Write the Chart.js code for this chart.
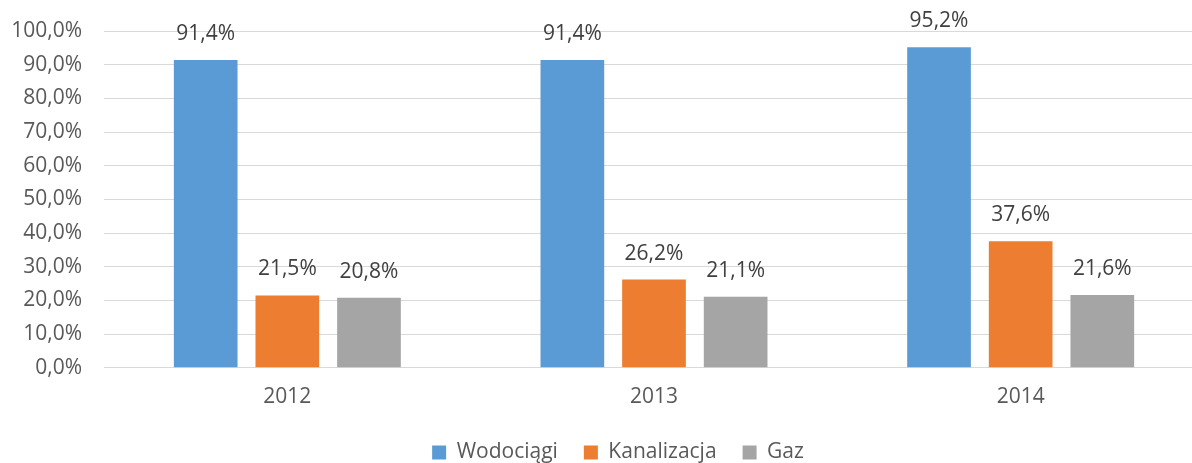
<!DOCTYPE html>
<html>
<head>
<meta charset="utf-8">
<script src="https://cdn.jsdelivr.net/npm/chart.js@4"></script>
<style>
  html, body { margin: 0; padding: 0; overflow: hidden; background: #fff; }
  #wrap { position: absolute; left: 0; top: 0; width: 1236px; height: 463px; }
</style>
</head>
<body>
<div id="wrap"><canvas id="chart"></canvas></div>
<script>
const YEARS = ['2012', '2013', '2014'];
const WODOCIAGI = [91.4, 91.4, 95.2];
const KANALIZACJA = [21.5, 26.2, 37.6];
const GAZ = [20.8, 21.1, 21.6];
const Y_TICKS = [0, 10, 20, 30, 40, 50, 60, 70, 80, 90, 100];

const FONT = "'Open Sans', sans-serif";
const pct = v => v.toFixed(1).replace('.', ',') + '%';

// value labels above each bar
const barLabels = {
    id: 'barLabels',
    afterDatasetsDraw(chart) {
        const ctx = chart.ctx;
        ctx.save();
        ctx.font = '21px ' + FONT;
        ctx.fillStyle = '#404040';
        ctx.textAlign = 'center';
        ctx.textBaseline = 'middle';
        chart.data.datasets.forEach((ds, i) => {
            chart.getDatasetMeta(i).data.forEach((bar, j) => {
                ctx.fillText(pct(ds.data[j]), bar.x, bar.y - 26);
            });
        });
        ctx.restore();
    }
};

// the legend sits centred on the whole (wider) figure, a bit lower than chart.js puts it
const legendShift = {
    id: 'legendShift',
    afterLayout(chart) {
        const lg = chart.legend;
        lg.left += 16; lg.right += 16;
        lg.top -= 11; lg.bottom -= 11;
    }
};

new Chart(document.getElementById('chart'), {
    type: 'bar',
    data: {
        labels: YEARS,
        datasets: [
            { label: 'Wodociągi', data: WODOCIAGI, backgroundColor: '#5b9bd5' },
            { label: 'Kanalizacja', data: KANALIZACJA, backgroundColor: '#ed7d31' },
            { label: 'Gaz', data: GAZ, backgroundColor: '#a5a5a5' }
        ]
    },
    options: {
        responsive: true,
        maintainAspectRatio: false,
        animation: false,
        layout: { padding: { top: 31, left: 0, right: 32, bottom: -21 } },
        datasets: { bar: { categoryPercentage: 0.668, barPercentage: 0.78 } },
        plugins: {
            tooltip: { enabled: false },
            legend: {
                position: 'bottom',
                labels: {
                    font: { family: FONT, size: 21 },
                    color: '#595959',
                    boxWidth: 14,
                    boxHeight: 14,
                    padding: 26
                }
            }
        },
        scales: {
            x: {
                grid: { display: false, drawTicks: false },
                border: { color: '#d9d9d9' },
                ticks: { font: { family: FONT, size: 21 }, color: '#595959', padding: 17 }
            },
            y: {
                min: 0,
                max: 100,
                afterFit: s => { s.width = 104; s.paddingTop = 0; s.paddingBottom = 0; },
                afterBuildTicks: s => { s.ticks = Y_TICKS.map(v => ({ value: v })); },
                grid: { color: '#d9d9d9', drawTicks: false },
                border: { display: false },
                ticks: {
                    font: { family: FONT, size: 21 },
                    color: '#595959',
                    padding: 22,
                    callback: v => pct(v)
                }
            }
        }
    },
    plugins: [barLabels, legendShift]
});
</script>
</body>
</html>
